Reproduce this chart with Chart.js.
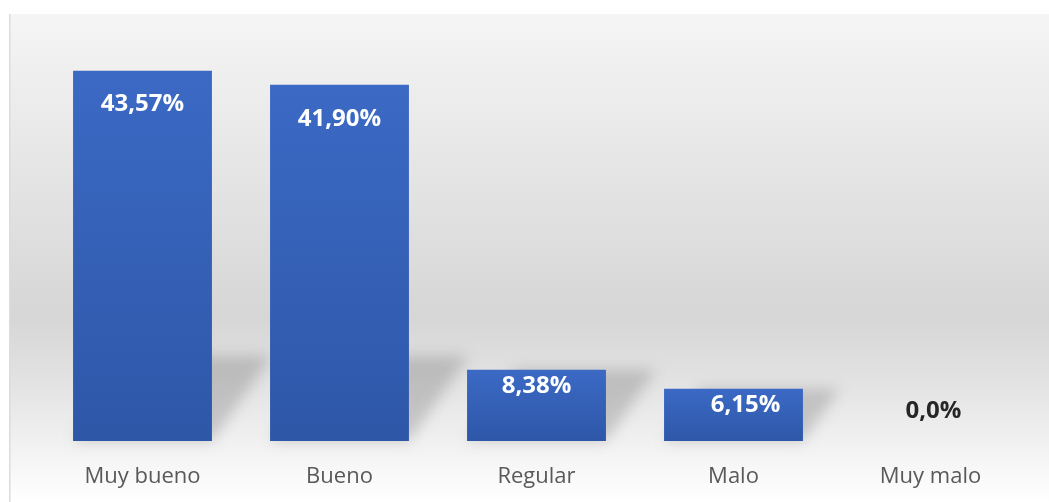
<!DOCTYPE html>
<html><head><meta charset="utf-8">
<script src="https://cdn.jsdelivr.net/npm/chart.js@4"></script>
<style>html,body{margin:0;padding:0;background:#fff;}#wrap{width:1049px;height:502px;}</style>
</head><body><div id="wrap"><canvas id="c"></canvas></div>
<script>
const categories = ["Muy bueno", "Bueno", "Regular", "Malo", "Muy malo"];
const values = [43.57, 41.90, 8.38, 6.15, 0.0];
const valueLabels = ["43,57%", "41,90%", "8,38%", "6,15%", "0,0%"];
const yMax = 50;

const bgPlugin = {
  id: 'bg',
  beforeDraw(chart) {
    const ctx = chart.ctx;
    ctx.save();
    ctx.fillStyle = '#ffffff';
    ctx.fillRect(0, 0, chart.width, chart.height);
    const g = ctx.createLinearGradient(0, 14, 0, 502);
    g.addColorStop(0, '#f5f5f5');
    g.addColorStop(0.62, '#d6d6d6');
    g.addColorStop(0.75, '#e2e2e2');
    g.addColorStop(1, '#ffffff');
    ctx.fillStyle = g;
    ctx.fillRect(9, 14, chart.width - 9, chart.height - 14);
    ctx.fillStyle = '#dcdcdc';
    ctx.fillRect(9, 14, 1.5, chart.height - 14);
    ctx.restore();
  },
  beforeDatasetsDraw(chart) {
    const ctx = chart.ctx;
    const meta = chart.getDatasetMeta(0);
    ctx.save();
    ctx.filter = 'blur(7px)';
    meta.data.forEach((bar) => {
      const h = bar.base - bar.y;
      if (h <= 0) return;
      const sh = Math.min(h, 85);
      const l = bar.x - bar.width / 2, r = bar.x + bar.width / 2;
      ctx.fillStyle = 'rgba(60,60,60,0.22)';
      ctx.beginPath();
      ctx.moveTo(l, bar.base);
      ctx.lineTo(r, bar.base);
      ctx.lineTo(r + sh * 0.7, bar.base - sh);
      ctx.lineTo(l + sh * 0.7, bar.base - sh);
      ctx.closePath();
      ctx.fill();
    });
    ctx.restore();
  },
  afterDatasetsDraw(chart) {
    const ctx = chart.ctx;
    const meta = chart.getDatasetMeta(0);
    ctx.save();
    ctx.font = 'bold 24px "Open Sans", sans-serif';
    ctx.textAlign = 'center';
    ctx.textBaseline = 'middle';
    meta.data.forEach((bar, i) => {
      const h = bar.base - bar.y;
      if (h < 1) {
        ctx.fillStyle = '#262626';
        ctx.fillText(valueLabels[i], bar.x + 3, bar.base - 30);
      } else {
        ctx.fillStyle = '#ffffff';
        const off = h > 150 ? 34 : 16;
        ctx.fillText(valueLabels[i], bar.x + (h > 150 ? 0 : (i === 3 ? 12 : 0)), bar.y + off);
      }
    });
    ctx.restore();
  }
};

const ctx = document.getElementById('c');
new Chart(ctx, {
  type: 'bar',
  data: {
    labels: categories,
    datasets: [{
      data: values,
      backgroundColor: (c) => {
        const chart = c.chart;
        const ys = chart.scales && chart.scales.y;
        if (!ys || c.raw === undefined) return '#3560b8';
        const top = ys.getPixelForValue(c.raw);
        const bot = ys.getPixelForValue(0);
        if (!isFinite(top) || bot - top < 1) return '#3560b8';
        const g = chart.ctx.createLinearGradient(0, top, 0, bot);
        g.addColorStop(0, '#3b69c4');
        g.addColorStop(1, '#2e57a8');
        return g;
      },
      borderWidth: 0,
      barPercentage: 0.705,
      categoryPercentage: 1.0
    }]
  },
  options: {
    responsive: true,
    maintainAspectRatio: false,
    animation: false,
    layout: { padding: { left: 44, right: 20, top: 16, bottom: 13 } },
    plugins: { legend: { display: false }, tooltip: { enabled: false } },
    scales: {
      x: {
        grid: { display: false, drawTicks: false },
        border: { display: false },
        afterFit: (scale) => { scale.height = 48; },
        ticks: { color: '#595959', padding: 23, font: { family: '"Open Sans", sans-serif', size: 22 } }
      },
      y: { display: false, min: 0, max: yMax }
    }
  },
  plugins: [bgPlugin]
});
</script>
</body></html>
